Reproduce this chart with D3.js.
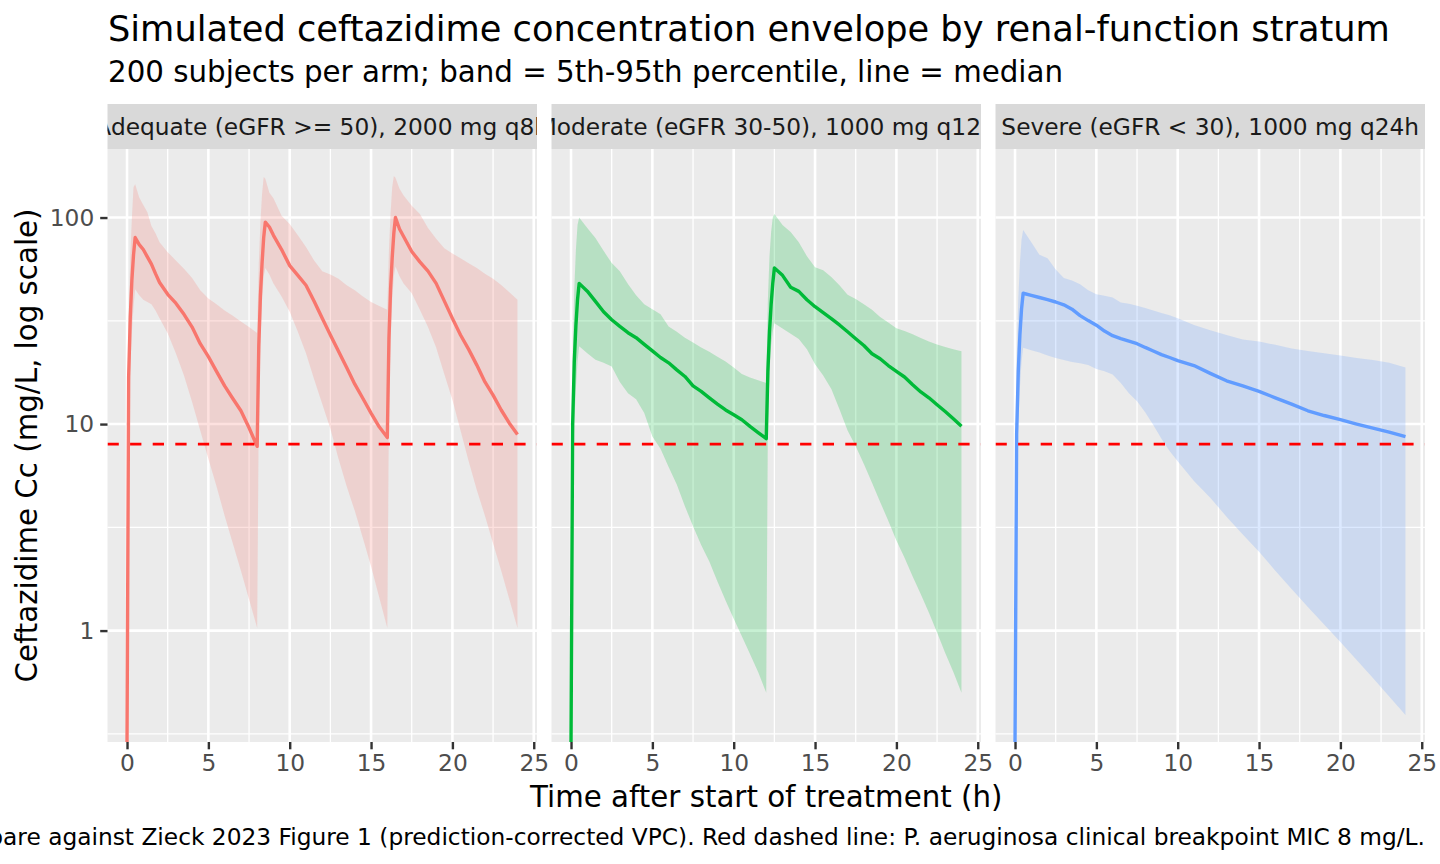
<!DOCTYPE html>
<html lang="en">
<head>
<meta charset="UTF-8">
<title>Simulated ceftazidime concentration envelope</title>
<script src="https://d3js.org/d3.v7.min.js"></script>
<style>
  body { margin: 0; background: #fff; }
  text { font-family: "DejaVu Sans", sans-serif; }
</style>
</head>
<body>
<div id="chart"></div>
<script>
// ---- data ----
const panelTitles = [
  "Adequate (eGFR >= 50), 2000 mg q8h",
  "Moderate (eGFR 30-50), 1000 mg q12h",
  "Severe (eGFR < 30), 1000 mg q24h"
];

// Adequate, q8h
const timeAdequate = [0,0.1,0.2,0.3,0.4,0.5,0.75,1,1.25,1.5,1.75,2,2.5,3,3.5,4,4.5,5,5.5,6,6.5,7,7.5,8,
  8.1,8.2,8.3,8.4,8.5,8.75,9,9.5,10,10.5,11,11.5,12,12.5,13,13.5,14,14.5,15,15.5,16,
  16.1,16.2,16.3,16.4,16.5,16.75,17,17.5,18,18.5,19,19.5,20,20.5,21,21.5,22,22.5,23,23.5,24];
const medAdequate = [0,17,33,50,66,80,74,70,64.5,59.5,53.5,48.5,42.5,38.5,34,29.5,24.5,21.2,18,15.3,13.3,11.6,9.6,7.8,
  24,42,60,80,95,90,82,70,58.5,52.5,47,39.3,32.5,27,22.5,18.8,15.6,13.3,11.3,9.7,8.6,
  26,45,64,84,100,88,81,68.5,61,55,48,39.5,32.5,27,23,19.3,16,13.8,11.7,10.1,8.9];
const loAdequate = [0,9,18,28,37,45,42,40,39,38,35.5,32.5,27.5,22,17.2,12.8,9.3,6.8,5.0,3.6,2.65,1.95,1.42,1.03,
  12,25,40,52,57,53,48,41.5,35,28,22,16.5,12.5,9.5,6.8,5.0,3.8,2.8,2.05,1.45,1.03,
  12,25,40,52,58,52,48,43,35.8,29.5,23.5,17.5,13.1,9.3,6.6,4.8,3.6,2.65,1.95,1.42,1.03];
const hiAdequate = [0,30,65,100,140,145,125,115,106,91,84,76,68,62,56.5,51,44.5,40.5,38,35.5,33.5,31.4,29.5,27.6,
  60,95,130,157,154,132,124,102,93,82,72,62,55,53,50.5,47,44.5,41.5,39,37.3,35.8,
  70,105,140,159,156,138,128,114,104,89,79,71,67,63.5,60,57,53.5,50.5,47.2,43.5,40];

// Moderate, q12h
const timeModerate = [0,0.1,0.2,0.3,0.4,0.5,1,1.5,2,2.5,3,3.5,4,4.5,5,5.5,6,6.5,7,7.5,8,8.5,9,9.5,10,10.5,11,11.5,12,
  12.1,12.2,12.3,12.4,12.5,13,13.5,14,14.5,15,15.5,16,16.5,17,17.5,18,18.5,19,19.5,20,20.5,21,21.5,22,22.5,23,23.5,24];
const medModerate = [0,10,20,30,40,48,44,39.3,35,32,29.7,27.7,26.2,24.3,22.6,21,19.8,18.3,17,15.3,14.4,13.4,12.5,11.7,11.1,10.5,9.75,9.1,8.5,
  18,28,38,48,57,52.5,46,43.9,40,37,34.6,32.4,30.2,28,25.9,24,21.9,20.7,19.2,18,16.9,15.5,14.3,13.4,12.4,11.5,10.6,9.75];
const loModerate = [0,5,10,15,20,23.8,22,20.5,19.8,19,16,14.1,13.2,11.3,8.7,7.6,6.2,5.1,4.0,3.2,2.6,2.16,1.73,1.40,1.14,0.94,0.77,0.63,0.50,
  10,18,24,28,30.8,29,27.4,25.8,23,19.5,17.2,14.8,11.8,9.3,7.8,6.4,5.2,4.2,3.4,2.73,2.25,1.83,1.5,1.22,0.98,0.78,0.63,0.50];
const hiModerate = [0,20,45,70,92,100,89,79.6,69,60.2,55,47.7,42,38,36,34,29.7,28,26.2,24.8,23.5,22.4,21.2,20.1,18.8,17.5,16.8,16.3,15.8,
  40,65,85,100,104,92,85,76,65,57.5,55.5,51.5,47,42.3,40.3,38,35.8,33,31,29.1,28.2,27.2,26.1,25.1,24.3,23.6,23,22.5];

// Severe, q24h
const timeSevere = [0,0.1,0.2,0.3,0.4,0.5,1,1.5,2,2.5,3,3.5,4,4.5,5,5.5,6,6.5,7,7.5,8,8.5,9,9.5,10,
  11,12,13,14,15,16,17,18,19,20,21,22,23,24];
const medSevere = [0,9,18,27,36,43,42,41,40,39,37.8,36,33.5,31.7,30.1,28.2,26.8,25.9,25.2,24.5,23.5,22.6,21.7,21,20.3,
  19.2,17.6,16.2,15.3,14.4,13.4,12.5,11.6,11.0,10.5,10.0,9.55,9.15,8.7];
const loSevere = [0,5,10,15,20,23.4,22.8,22.2,21.5,20.9,20.4,20,19.7,19.3,18.5,18,17.4,15.8,14.1,12.9,11.4,9.9,8.5,7.4,6.6,
  5.3,4.4,3.56,2.92,2.41,1.95,1.59,1.30,1.07,0.88,0.72,0.59,0.48,0.39];
const hiSevere = [0,20,40,60,78,87,76,66,63.5,56,51,49.5,47.5,44.5,42.5,41.8,41,38.8,38.2,37.4,36.5,35.5,34.5,33.6,32.5,
  30.2,28.5,27,25.7,25.1,24.2,23.2,22.6,22.0,21.5,20.9,20.4,19.8,18.8];

const breakpointMIC = 8;
const xTicks = [0, 5, 10, 15, 20, 25];
const xMinor = [2.5, 7.5, 12.5, 17.5, 22.5];
const yTicks = [1, 10, 100];
const yTickLabels = ["1", "10", "100"];

const titleText = "Simulated ceftazidime concentration envelope by renal-function stratum";
const subtitleText = "200 subjects per arm; band = 5th-95th percentile, line = median";
const xLabel = "Time after start of treatment (h)";
const yLabel = "Ceftazidime Cc (mg/L, log scale)";
const captionText = "Compare against Zieck 2023 Figure 1 (prediction-corrected VPC). Red dashed line: P. aeruginosa clinical breakpoint MIC 8 mg/L.";

// ---- styles ----
const colours = ["#F8766D", "#00BA38", "#619CFF"];
const W = 1440, H = 864;
const panelLeft = 107.5, panelRight = 1425, gap = 14.5;
const panelW = (panelRight - panelLeft - 2 * gap) / 3;
const panelTop = 149, panelBottom = 742, stripH = 45;
const smallFont = 23.3, midFont = 29.3, bigFont = 35.2;

const panels = [
  {t: timeAdequate, med: medAdequate, lo: loAdequate, hi: hiAdequate},
  {t: timeModerate, med: medModerate, lo: loModerate, hi: hiModerate},
  {t: timeSevere, med: medSevere, lo: loSevere, hi: hiSevere}
].map((p, i) => ({...p, title: panelTitles[i], colour: colours[i],
  rows: p.t.map((t, j) => ({t, med: p.med[j], lo: p.lo[j], hi: p.hi[j]}))}));

// log y domain from data with 5% expansion (like ggplot)
const allVals = panels.flatMap(p => [...p.lo, ...p.hi, ...p.med]).filter(v => v > 0);
const lmin = Math.log10(d3.min(allVals)), lmax = Math.log10(d3.max(allVals));
const lexp = (lmax - lmin) * 0.05;
const y = d3.scaleLog().domain([10 ** (lmin - lexp), 10 ** (lmax + lexp)]).range([panelBottom, panelTop]);
const yPos = v => v > 0 ? y(v) : panelBottom;

// minor breaks halfway (in log space) between decades
const yMinor = [0.1, 1, 10, 100].map(v => v * Math.sqrt(10))
  .filter(v => v > y.domain()[0] && v < y.domain()[1]);

const svg = d3.select("#chart").append("svg").attr("width", W).attr("height", H);
svg.append("rect").attr("width", W).attr("height", H).attr("fill", "#fff");

panels.forEach((p, i) => {
  const x0 = panelLeft + i * (panelW + gap);
  const x = d3.scaleLinear().domain([-1.2, 25.2]).range([x0, x0 + panelW]);
  const g = svg.append("g");

  // panel background + grid
  g.append("rect").attr("x", x0).attr("y", panelTop).attr("width", panelW)
    .attr("height", panelBottom - panelTop).attr("fill", "#EBEBEB");
  g.selectAll(".yminor").data(yMinor).join("line")
    .attr("x1", x0).attr("x2", x0 + panelW).attr("y1", d => y(d)).attr("y2", d => y(d))
    .attr("stroke", "#fff").attr("stroke-width", 1.3);
  g.selectAll(".xminor").data(xMinor).join("line")
    .attr("x1", d => x(d)).attr("x2", d => x(d)).attr("y1", panelTop).attr("y2", panelBottom)
    .attr("stroke", "#fff").attr("stroke-width", 1.3);
  g.selectAll(".ymajor").data(yTicks).join("line")
    .attr("x1", x0).attr("x2", x0 + panelW).attr("y1", d => y(d)).attr("y2", d => y(d))
    .attr("stroke", "#fff").attr("stroke-width", 2.6);
  g.selectAll(".xmajor").data(xTicks).join("line")
    .attr("x1", d => x(d)).attr("x2", d => x(d)).attr("y1", panelTop).attr("y2", panelBottom)
    .attr("stroke", "#fff").attr("stroke-width", 2.6);

  // clip to panel
  const clipId = "clip" + i;
  svg.append("clipPath").attr("id", clipId).append("rect")
    .attr("x", x0).attr("y", panelTop).attr("width", panelW).attr("height", panelBottom - panelTop);
  const pg = g.append("g").attr("clip-path", `url(#${clipId})`);

  const area = d3.area().defined(d => d.lo > 0 && d.hi > 0)
    .x(d => x(d.t)).y0(d => y(d.lo)).y1(d => y(d.hi));
  pg.append("path").datum(p.rows).attr("d", area)
    .attr("fill", p.colour).attr("fill-opacity", 0.22);

  const line = d3.line().x(d => x(d.t)).y(d => yPos(d.med));
  pg.append("path").datum(p.rows).attr("d", line)
    .attr("fill", "none").attr("stroke", p.colour).attr("stroke-width", 3.4)
    .attr("stroke-linejoin", "round");

  pg.append("line").attr("x1", x0).attr("x2", x0 + panelW)
    .attr("y1", y(breakpointMIC)).attr("y2", y(breakpointMIC))
    .attr("stroke", "#FF0000").attr("stroke-width", 2.6).attr("stroke-dasharray", "11.3,11.3");

  // strip
  const sclip = "sclip" + i;
  svg.append("clipPath").attr("id", sclip).append("rect")
    .attr("x", x0).attr("y", panelTop - stripH).attr("width", panelW).attr("height", stripH);
  g.append("rect").attr("x", x0).attr("y", panelTop - stripH).attr("width", panelW)
    .attr("height", stripH).attr("fill", "#D9D9D9");
  g.append("text").attr("clip-path", `url(#${sclip})`)
    .attr("x", x0 + panelW / 2).attr("y", panelTop - stripH / 2).attr("dy", "0.36em")
    .attr("text-anchor", "middle").attr("font-size", smallFont).attr("fill", "#1A1A1A")
    .text(p.title);

  // x axis
  const xa = svg.append("g").attr("transform", `translate(0,${panelBottom})`)
    .call(d3.axisBottom(x).tickValues(xTicks).tickFormat(d3.format("d")).tickSize(7.3).tickPadding(5));
  xa.select(".domain").remove();
  xa.selectAll(".tick line").attr("stroke", "#333333").attr("stroke-width", 2.4);
  xa.selectAll(".tick text").attr("font-size", smallFont).attr("fill", "#4D4D4D")
    .attr("font-family", "DejaVu Sans");

  if (i === 0) {
    const ya = svg.append("g").attr("transform", `translate(${x0},0)`)
      .call(d3.axisLeft(y).tickValues(yTicks).tickFormat((d, k) => yTickLabels[k]).tickSize(7.3).tickPadding(6));
    ya.select(".domain").remove();
    ya.selectAll(".tick line").attr("stroke", "#333333").attr("stroke-width", 2.4);
    ya.selectAll(".tick text").attr("font-size", smallFont).attr("fill", "#4D4D4D")
      .attr("font-family", "DejaVu Sans");
  }
});

// titles
svg.append("text").attr("x", 108).attr("y", 41).attr("font-size", bigFont).attr("fill", "#000").text(titleText);
svg.append("text").attr("x", 108).attr("y", 82).attr("font-size", midFont).attr("fill", "#000").text(subtitleText);
svg.append("text").attr("x", (panelLeft + panelRight) / 2).attr("y", 807).attr("text-anchor", "middle")
  .attr("font-size", midFont).attr("fill", "#000").text(xLabel);
svg.append("text").attr("transform", `translate(37,${(panelTop + panelBottom) / 2}) rotate(-90)`)
  .attr("text-anchor", "middle").attr("font-size", midFont).attr("fill", "#000").text(yLabel);
svg.append("text").attr("x", panelRight).attr("y", 845).attr("text-anchor", "end")
  .attr("font-size", smallFont).attr("fill", "#000").text(captionText);
</script>
</body>
</html>
